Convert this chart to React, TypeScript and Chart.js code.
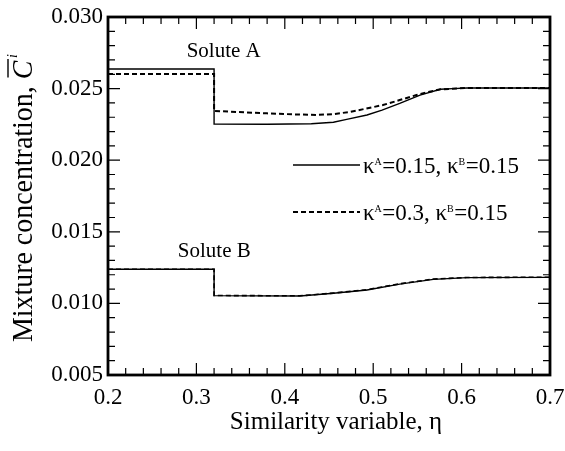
import React, { useEffect, useRef } from "react";
import { Chart, registerables } from "chart.js";

Chart.register(...registerables);

const soluteASolidX = [0.2, 0.32, 0.32, 0.38, 0.43, 0.455, 0.47, 0.493, 0.51, 0.53, 0.553, 0.576, 0.59, 0.606, 0.7];
const soluteASolidY = [0.02637, 0.02637, 0.02253, 0.02251, 0.02255, 0.02265, 0.02285, 0.02316, 0.0235, 0.02397, 0.02455, 0.02495, 0.025, 0.02504, 0.02504];

const soluteADashX = [0.2, 0.32, 0.32, 0.38, 0.41, 0.436, 0.455, 0.474, 0.49, 0.511, 0.53, 0.549, 0.565, 0.576, 0.606, 0.7];
const soluteADashY = [0.02602, 0.02602, 0.02344, 0.02327, 0.0232, 0.02316, 0.02322, 0.02337, 0.02358, 0.02385, 0.0242, 0.02455, 0.0248, 0.02495, 0.02504, 0.02504];

const soluteBSolidX = [0.2, 0.32, 0.32, 0.417, 0.455, 0.493, 0.53, 0.568, 0.606, 0.7];
const soluteBSolidY = [0.01238, 0.01238, 0.01054, 0.01052, 0.01071, 0.01094, 0.01135, 0.01168, 0.0118, 0.01182];

const soluteBDashX = [0.2, 0.32, 0.32, 0.417, 0.455, 0.493, 0.53, 0.568, 0.606, 0.7];
const soluteBDashY = [0.01238, 0.01238, 0.01055, 0.01053, 0.01072, 0.01096, 0.01137, 0.0117, 0.01181, 0.01183];

const xTickLabels = ["0.2", "0.3", "0.4", "0.5", "0.6", "0.7"];
const yTickLabels = ["0.005", "0.010", "0.015", "0.020", "0.025", "0.030"];

const legendLabels = [
  { kA: "0.15", kB: "0.15", dash: [] as number[] },
  { kA: "0.3", kB: "0.15", dash: [5, 3] },
];

const annotations = [
  { text: "Solute A", x: 0.289, y: 0.02756 },
  { text: "Solute B", x: 0.279, y: 0.01366 },
];

const SERIF = "'Liberation Serif', 'DejaVu Serif', serif";

const toPts = (xs: number[], ys: number[]) => xs.map((x, i) => ({ x, y: ys[i] }));

const decorPlugin = {
  id: "decor",
  afterDraw(chart: any) {
    const { ctx, chartArea, scales } = chart;
    const { left, right, top, bottom } = chartArea;
    const xs = scales.x;
    const ys = scales.y;
    ctx.save();
    ctx.strokeStyle = "#000";
    ctx.fillStyle = "#000";
    // ticks
    ctx.lineWidth = 1.2;
    for (let i = 0; i <= 25; i++) {
      const v = 0.2 + i * 0.02;
      const px = xs.getPixelForValue(v);
      const len = i % 5 === 0 ? 12 : 7;
      ctx.beginPath();
      ctx.moveTo(px, bottom);
      ctx.lineTo(px, bottom - len);
      ctx.moveTo(px, top);
      ctx.lineTo(px, top + len);
      ctx.stroke();
    }
    for (let i = 0; i <= 25; i++) {
      const v = 0.005 + i * 0.001;
      const py = ys.getPixelForValue(v);
      const len = i % 5 === 0 ? 12 : 7;
      ctx.beginPath();
      ctx.moveTo(left, py);
      ctx.lineTo(left + len, py);
      ctx.moveTo(right, py);
      ctx.lineTo(right - len, py);
      ctx.stroke();
    }
    // border
    ctx.lineWidth = 2.8;
    ctx.strokeRect(left, top, right - left, bottom - top);

    // annotations
    ctx.font = `21px ${SERIF}`;
    ctx.textAlign = "left";
    ctx.textBaseline = "middle";
    annotations.forEach((a) => {
      ctx.fillText(a.text, xs.getPixelForValue(a.x), ys.getPixelForValue(a.y));
    });

    // legend
    const lx0 = 293;
    const lx1 = 360;
    const ly = [165, 212];
    legendLabels.forEach((l, i) => {
      ctx.save();
      ctx.lineWidth = l.dash.length ? 2 : 1.3;
      ctx.setLineDash(l.dash);
      ctx.beginPath();
      ctx.moveTo(lx0, ly[i]);
      ctx.lineTo(lx1, ly[i]);
      ctx.stroke();
      ctx.restore();
      let x = 363;
      const base = ly[i] + 8;
      ctx.textBaseline = "alphabetic";
      const parts: [string, boolean][] = [
        ["κ", false], ["A", true], ["=" + l.kA + ", κ", false], ["B", true], ["=" + l.kB, false],
      ];
      parts.forEach(([t, sup]) => {
        ctx.font = sup ? `10px ${SERIF}` : `23px ${SERIF}`;
        ctx.fillText(t, x, sup ? base - 8 : base);
        x += ctx.measureText(t).width + (sup ? 0.5 : 0);
      });
    });

    // y title
    ctx.save();
    ctx.translate(32, 342);
    ctx.rotate(-Math.PI / 2);
    ctx.scale(0.93, 1);
    ctx.textBaseline = "alphabetic";
    ctx.textAlign = "left";
    ctx.font = `30px ${SERIF}`;
    const t1 = "Mixture concentration, ";
    ctx.fillText(t1, 0, 0);
    let tx = ctx.measureText(t1).width;
    ctx.font = `italic 30px ${SERIF}`;
    const cw = ctx.measureText("C").width;
    ctx.fillText("C", tx, 0);
    ctx.lineWidth = 1.4;
    ctx.beginPath();
    ctx.moveTo(tx + 2, -24);
    ctx.lineTo(tx + cw + 2, -24);
    ctx.stroke();
    tx += cw + 3;
    ctx.font = `italic 15px ${SERIF}`;
    ctx.fillText("i", tx, -15);
    ctx.restore();

    // x title
    ctx.font = `25px ${SERIF}`;
    ctx.textAlign = "center";
    ctx.textBaseline = "middle";
    ctx.fillText("Similarity variable, η", 336, 422);
    ctx.restore();
  },
};

export default function App() {
  const ref = useRef<HTMLCanvasElement>(null);
  useEffect(() => {
    if (!ref.current) return;
    const common = { borderColor: "#000", pointRadius: 0, fill: false, tension: 0 };
    const chart = new Chart(ref.current, {
      type: "line",
      data: {
        datasets: [
          { ...common, data: toPts(soluteASolidX, soluteASolidY), borderWidth: 1.4 },
          { ...common, data: toPts(soluteADashX, soluteADashY), borderWidth: 2, borderDash: [5, 3] },
          { ...common, data: toPts(soluteBSolidX, soluteBSolidY), borderWidth: 1.4 },
          { ...common, data: toPts(soluteBDashX, soluteBDashY), borderWidth: 1.6, borderDash: [5, 3] },
        ] as any,
      },
      options: {
        animation: false,
        responsive: false,
        maintainAspectRatio: false,
        layout: { padding: { top: 17, right: 15, left: 0, bottom: 0 } },
        plugins: { legend: { display: false }, tooltip: { enabled: false } },
        scales: {
          x: {
            type: "linear",
            min: 0.2,
            max: 0.7,
            grid: { display: false, drawTicks: false },
            border: { display: false },
            ticks: {
              stepSize: 0.1,
              color: "#000",
              font: { family: SERIF, size: 23 },
              padding: 9,
              maxRotation: 0,
              callback: (v: any) => {
                const idx = Math.round((Number(v) - 0.2) / 0.1);
                return xTickLabels[idx] ?? "";
              },
            },
            afterFit: (s: any) => {
              s.height = 76;
              s.paddingRight = 0;
              s.paddingLeft = 0;
            },
          },
          y: {
            type: "linear",
            min: 0.005,
            max: 0.03,
            grid: { display: false, drawTicks: false },
            border: { display: false },
            ticks: {
              stepSize: 0.005,
              color: "#000",
              font: { family: SERIF, size: 23 },
              padding: 5,
              callback: (v: any) => {
                const idx = Math.round((Number(v) - 0.005) / 0.005);
                return yTickLabels[idx] ?? "";
              },
            },
            afterFit: (s: any) => {
              s.width = 108;
              s.paddingTop = 0;
              s.paddingBottom = 0;
            },
          },
        },
      } as any,
      plugins: [decorPlugin],
    });
    return () => chart.destroy();
  }, []);
  return (
    <div style={{ position: "fixed", left: 0, top: 0, width: 565, height: 451, background: "#fff" }}>
      <canvas ref={ref} width={565} height={451} style={{ width: 565, height: 451 }} />
    </div>
  );
}
